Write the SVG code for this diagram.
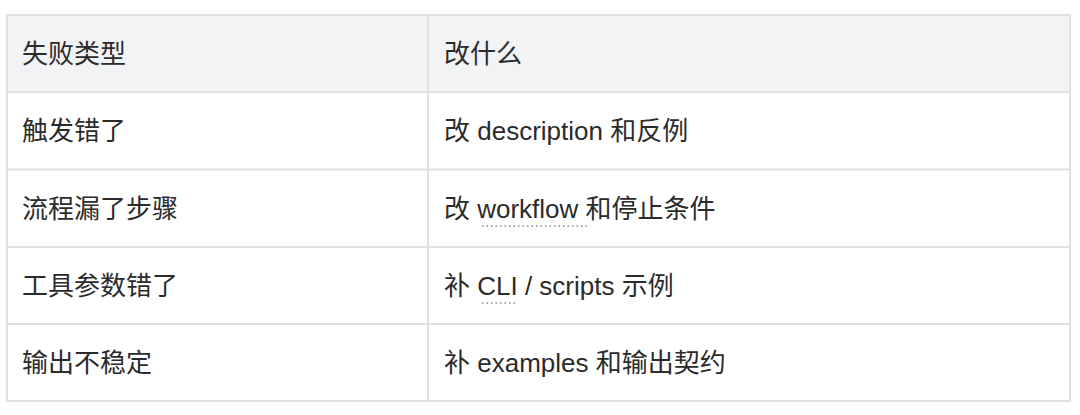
<svg xmlns="http://www.w3.org/2000/svg" width="1080" height="415" viewBox="0 0 1080 415">
<style>
.t{font-family:"Liberation Sans","Noto Sans CJK SC",sans-serif;font-size:26px;fill:#2b2b2b}
.l{stroke:#e1e1e4;stroke-width:2;fill:none}
.u{stroke:#8a8a8a;stroke-width:1.5;stroke-dasharray:1.5 3}
</style>
<rect x="0" y="0" width="1080" height="415" fill="#ffffff"/>
<rect x="7" y="15" width="1063" height="77" fill="#f2f3f5"/>
<g id="grid">
<rect class="l" x="7" y="15" width="1063" height="386"/>
<line class="l" x1="7" y1="92" x2="1070" y2="92"/>
<line class="l" x1="7" y1="169.5" x2="1070" y2="169.5"/>
<line class="l" x1="7" y1="247" x2="1070" y2="247"/>
<line class="l" x1="7" y1="324" x2="1070" y2="324"/>
<line class="l" x1="428" y1="15" x2="428" y2="401"/>
</g>
<g id="header"><text class="t" x="22" y="63">失败类型</text><text class="t" x="444" y="63">改什么</text></g>
<g id="row1"><text class="t" x="22" y="140">触发错了</text><text class="t" x="444" y="140">改 description 和反例</text></g>
<g id="row2"><text class="t" x="22" y="218">流程漏了步骤</text><text class="t" x="444" y="218">改 workflow 和停止条件</text><line class="u" x1="482" y1="226" x2="588" y2="226"/></g>
<g id="row3"><text class="t" x="22" y="295">工具参数错了</text><text class="t" x="444" y="295">补 CLI / scripts 示例</text><line class="u" x1="482" y1="303" x2="518" y2="303"/></g>
<g id="row4"><text class="t" x="22" y="372">输出不稳定</text><text class="t" x="444" y="372">补 examples 和输出契约</text></g>
</svg>
